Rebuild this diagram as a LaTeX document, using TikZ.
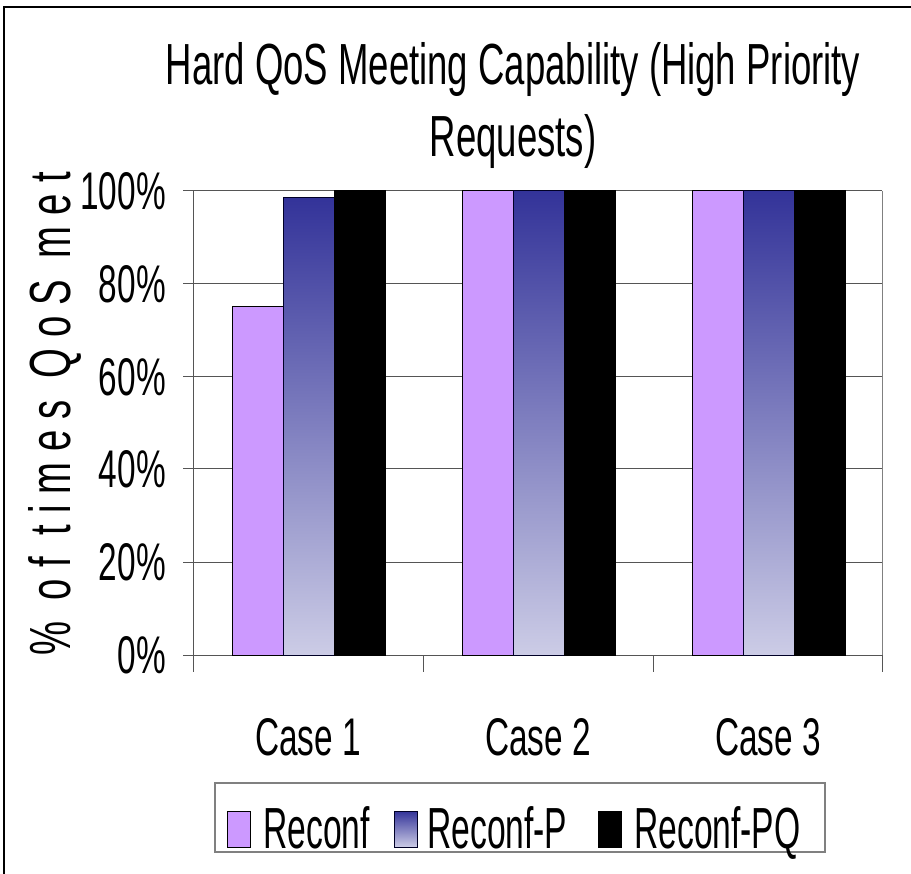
\documentclass[tikz,border=0pt]{standalone}
\usepackage{fontspec}
\setmainfont{Liberation Sans}[FakeStretch=0.63]
\newfontfamily\axisfont{Liberation Sans}[FakeStretch=0.66,LetterSpace=19]
\newfontfamily\keyfont{Liberation Sans}[FakeStretch=0.58]
\definecolor{reconf}{HTML}{CC99FF}
\definecolor{reconfptop}{HTML}{333399}
\definecolor{reconfpbot}{HTML}{CCCCE6}
\definecolor{gridgray}{HTML}{555555}
\tikzset{
 barR/.style={fill=reconf,draw=black,line width=1pt},
 barP/.style={top color=reconfptop,bottom color=reconfpbot,draw=black!85!blue,line width=1pt},
 barPQ/.style={fill=black,draw=black,line width=1pt},
 ticklabel/.style={font=\fontsize{53}{53}\selectfont,anchor=east,inner sep=0pt},
 caselabel/.style={font=\fontsize{53}{53}\selectfont,anchor=base,inner sep=0pt},
 legendlabel/.style={font=\keyfont\fontsize{58}{58}\selectfont,anchor=base west,inner sep=0pt},
 titlelabel/.style={font=\fontsize{58}{58}\selectfont,anchor=base,inner sep=0pt}
}
\begin{document}
\begin{tikzpicture}[x=1pt,y=-1pt]
\useasboundingbox (0,0) rectangle (911,874);
\draw[line width=1.5pt] (4,880) -- (4,7) -- (915,7);
\node[titlelabel] (title) at (513,85) {Hard QoS Meeting Capability (High Priority};
\node[titlelabel] (title2) at (513,157) {Requests)};
\node[rotate=90,anchor=base,inner sep=0pt,font=\axisfont\fontsize{58}{58}\selectfont] (ytitle) at (70,414) {\% of times QoS met};
\foreach \y/\v in {655/0,562/20,469/40,377/60,284/80,191/100}{
 \draw[gridgray,line width=1pt] (183,\y) -- (882,\y);
 \node[ticklabel] (tick\v) at (166,\y) {\v\%};
}
\draw[gray,line width=1pt] (882,191) -- (882,655);
\draw[gridgray,line width=1pt] (193,191) -- (193,672);
\foreach \x in {423,653,882}
 \draw[gridgray,line width=1pt] (\x,655) -- (\x,672);
\foreach \i/\r/\p/\q in {0/75/98.7/100,1/100/100/100,2/100/100/100}{
 \pgfmathsetmacro\xa{232+230*\i}
 \draw[barR] (\xa,655) rectangle ++(51,-4.64*\r);
 \draw[barP] (\xa+51,655) rectangle ++(51,-4.64*\p);
 \draw[barPQ] (\xa+102,655) rectangle ++(51,-4.64*\q);
}
\foreach \x/\c in {308/1,538/2,768/3}
 \node[caselabel] (case\c) at (\x,755) {Case \c};
\draw[gray,line width=1.5pt] (215,783) rectangle (825,852);
\draw[barR] (227,811) rectangle (250,847);
\draw[barP] (394,811) rectangle (417,847);
\draw[barPQ] (598,811) rectangle (621,847);
\node[legendlabel] (keyR) at (263,848) {Reconf};
\node[legendlabel] (keyP) at (427,848) {Reconf-P};
\node[legendlabel] (keyPQ) at (634,848) {Reconf-PQ};
\end{tikzpicture}
\end{document}
